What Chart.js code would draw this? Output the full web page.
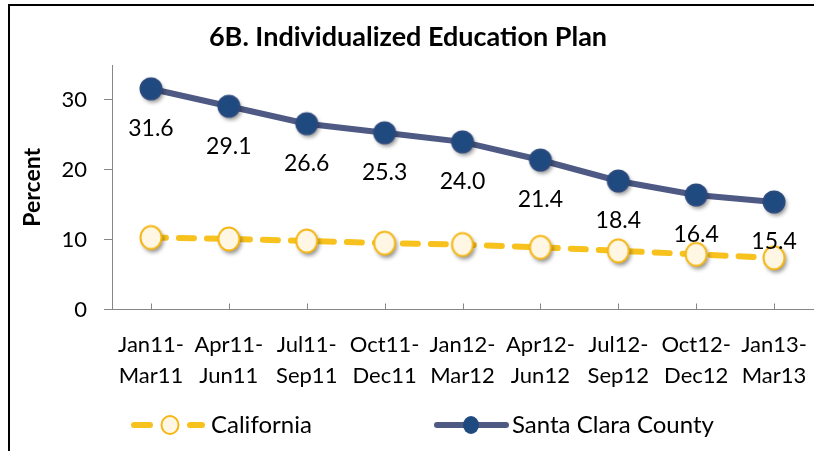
<!DOCTYPE html>
<html>
<head>
<meta charset="utf-8">
<script src="https://cdn.jsdelivr.net/npm/chart.js@4.4.1/dist/chart.umd.min.js"></script>
<style>
  html, body { margin: 0; padding: 0; background: #fff; overflow: hidden; }
  #wrap { position: relative; width: 814px; height: 451px; overflow: hidden; }
  #frame {
    position: absolute; left: 8px; top: 4px; width: 900px; height: 600px;
    border-left: 2px solid #000; border-top: 2px solid #000; pointer-events: none;
  }
  canvas { position: absolute; left: 0; top: 0; }
</style>
</head>
<body>
<div id="wrap">
  <canvas id="chart" width="830" height="451"></canvas>
  <div id="frame"></div>
</div>
<script>
const periods = [
  ["Jan11-", "Mar11"], ["Apr11-", "Jun11"], ["Jul11-", "Sep11"],
  ["Oct11-", "Dec11"], ["Jan12-", "Mar12"], ["Apr12-", "Jun12"],
  ["Jul12-", "Sep12"], ["Oct12-", "Dec12"], ["Jan13-", "Mar13"]
];
const california = [10.3, 10.1, 9.8, 9.5, 9.3, 8.9, 8.4, 7.9, 7.4];
const santaClara = [31.6, 29.1, 26.6, 25.3, 24.0, 21.4, 18.4, 16.4, 15.4];
const yTicks = [0, 10, 20, 30];

const FONT = "Lato";
const GOLD = "#F8C21E";
const SLATE = "#4E5A84";
const NAVY = "#1F4A80";

// marker bitmaps with a soft drop shadow baked in
function marker(fill, stroke, rx, ry) {
  const c = document.createElement("canvas");
  c.width = 40; c.height = 40;
  const g = c.getContext("2d");
  g.shadowColor = "rgba(0,0,0,0.45)";
  g.shadowBlur = 4;
  g.shadowOffsetX = 2;
  g.shadowOffsetY = 3;
  g.beginPath();
  g.ellipse(20, 20, rx, ry, 0, 0, Math.PI * 2);
  g.fillStyle = fill;
  g.fill();
  g.shadowColor = "transparent";
  g.lineWidth = 2;
  g.strokeStyle = stroke;
  g.stroke();
  return c;
}

const calMarker = marker("#FFF7E3", "#F5B716", 10.5, 11.5);
const sccMarker = marker(NAVY, "#2B4A7E", 10.5, 10.5);

const valueLabels = {
  id: "valueLabels",
  afterDatasetsDraw(chart) {
    const ctx = chart.ctx;
    const meta = chart.getDatasetMeta(1);
    ctx.save();
    ctx.font = "23px " + FONT;
    ctx.fillStyle = "#000";
    ctx.textAlign = "center";
    ctx.textBaseline = "middle";
    meta.data.forEach((pt, i) => {
      ctx.fillText(santaClara[i].toFixed(1), pt.x, pt.y + 40);
    });
    ctx.restore();
  }
};

// small inside tick marks on the category axis
const innerTicks = {
  id: "innerTicks",
  afterDraw(chart) {
    const ctx = chart.ctx;
    const x = chart.scales.x;
    const bottom = chart.chartArea.bottom;
    ctx.save();
    ctx.strokeStyle = "#868686";
    ctx.lineWidth = 1;
    periods.forEach((p, i) => {
      const px = Math.round(x.getPixelForValue(i)) + 0.5;
      ctx.beginPath();
      ctx.moveTo(px, bottom);
      ctx.lineTo(px, bottom - 6);
      ctx.stroke();
    });
    ctx.restore();
  }
};

const legendRow = {
  id: "legendRow",
  afterDraw(chart) {
    const ctx = chart.ctx;
    const y = 425;
    ctx.save();
    ctx.lineCap = "round";
    ctx.lineWidth = 6;
    ctx.strokeStyle = GOLD;
    ctx.beginPath();
    ctx.moveTo(134, y); ctx.lineTo(150, y);
    ctx.moveTo(190, y); ctx.lineTo(202, y);
    ctx.stroke();
    ctx.beginPath();
    ctx.ellipse(170, y, 8.5, 9, 0, 0, Math.PI * 2);
    ctx.fillStyle = "#FFF7E3"; ctx.fill();
    ctx.lineWidth = 2; ctx.strokeStyle = "#F5B716"; ctx.stroke();

    ctx.lineWidth = 6;
    ctx.strokeStyle = SLATE;
    ctx.beginPath();
    ctx.moveTo(437, y); ctx.lineTo(506, y);
    ctx.stroke();
    ctx.beginPath();
    ctx.ellipse(471, y, 8, 9, 0, 0, Math.PI * 2);
    ctx.fillStyle = NAVY; ctx.fill();

    ctx.font = "24px " + FONT;
    ctx.fillStyle = "#000";
    ctx.textBaseline = "middle";
    ctx.fillText("California", 211, y);
    ctx.fillText("Santa Clara County", 512, y);
    ctx.restore();
  }
};

new Chart(document.getElementById("chart"), {
  type: "line",
  data: {
    labels: periods,
    datasets: [
      {
        label: "California",
        data: california,
        borderColor: GOLD,
        borderWidth: 6,
        borderDash: [15, 13],
        borderCapStyle: "round",
        pointStyle: calMarker,
        pointRadius: 11,
        tension: 0
      },
      {
        label: "Santa Clara County",
        data: santaClara,
        borderColor: SLATE,
        borderWidth: 6,
        pointStyle: sccMarker,
        pointRadius: 11,
        tension: 0
      }
    ]
  },
  options: {
    responsive: false,
    animation: false,
    devicePixelRatio: 1,
    layout: { padding: { left: 0, right: 14, top: 6, bottom: 0 } },
    plugins: {
      legend: { display: false },
      tooltip: { enabled: false },
      title: {
        display: true,
        text: "6B. Individualized Education Plan",
        color: "#000",
        font: { family: FONT, size: 27, weight: "bold", lineHeight: 1.2 },
        padding: { top: 14.8, bottom: 11.8 }
      }
    },
    scales: {
      x: {
        offset: true,
        grid: { display: false, drawTicks: false },
        border: { display: true, color: "#868686", width: 1 },
        ticks: {
          color: "#000",
          padding: 19,
          maxRotation: 0,
          autoSkip: false,
          font: { family: FONT, size: 22, lineHeight: 1.45 }
        },
        afterFit(scale) { scale.height = 141.5; }
      },
      y: {
        min: 0,
        max: 35,
        afterBuildTicks(scale) { scale.ticks = yTicks.map(v => ({ value: v })); },
        grid: { drawOnChartArea: false, drawTicks: true, tickLength: 8, color: "#868686" },
        border: { display: true, color: "#868686", width: 1 },
        ticks: {
          color: "#000",
          padding: 17,
          font: { family: FONT, size: 22 }
        },
        title: {
          display: true,
          text: "Percent",
          color: "#000",
          font: { family: FONT, size: 23, weight: "bold", lineHeight: 1.2 },
          padding: { top: 19 }
        },
        afterFit(scale) { scale.width = 112; }
      }
    }
  },
  plugins: [valueLabels, innerTicks, legendRow]
});
</script>
</body>
</html>
